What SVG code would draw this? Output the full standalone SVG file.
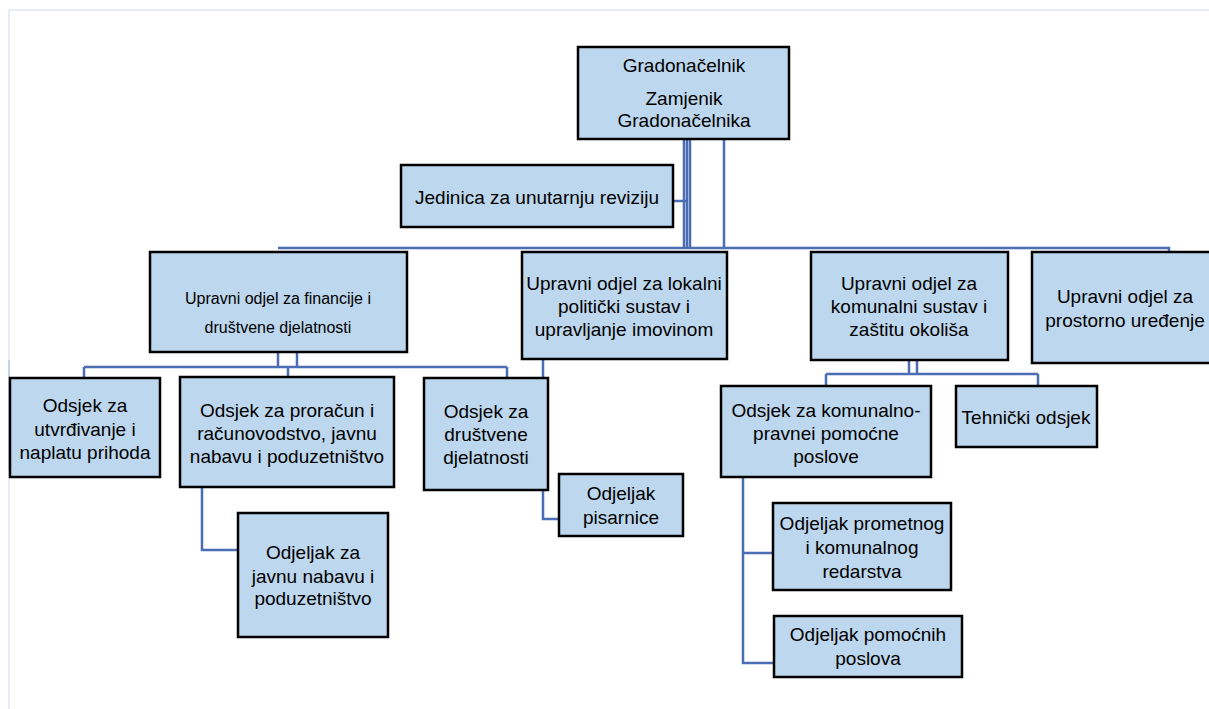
<svg xmlns="http://www.w3.org/2000/svg" width="1209" height="709" viewBox="0 0 1209 709">
<style>
.box{fill:#bdd7ee;stroke:#000;stroke-width:2.5}
.t{font-family:"Liberation Sans",Arial,sans-serif;font-size:19px;fill:#000;text-anchor:middle}
.s{font-size:16px}
.c{fill:none;stroke:#4a6db4;stroke-width:2.5}
</style>
<rect x="0" y="0" width="1209" height="709" fill="#fff"/>
<path d="M9 10 V709 M9 10 H1209" fill="none" stroke="#dfe5f2" stroke-width="1.5"/>
<path d="M9 360 V470" fill="none" stroke="#c9d3e8" stroke-width="2"/>
<g id="connectors">
<path class="c" d="M684 139 V248 M687 139 V248 M690 139 V248 M724 139 V248"/>
<path class="c" d="M673 201 H686"/>
<path class="c" d="M278 248 H1169 V251"/>
<path class="c" d="M278 352 V367 M297 352 V367 M84 367 H507 M84 367 V378 M288 367 V378 M507 367 V378"/>
<path class="c" d="M543 359 V378"/>
<path class="c" d="M543 490 V519 H559"/>
<path class="c" d="M202 487 V550 H238"/>
<path class="c" d="M909 360 V374 M917 360 V374 M826 374 H1038 M826 374 V386 M1038 374 V386"/>
<path class="c" d="M743 477 V663 H774 M743 553 H773"/>
</g>
<g id="n-gradonacelnik"><rect class="box" x="578" y="47" width="211" height="92"/>
<text class="t" x="684" y="72">Gradonačelnik</text>
<text class="t" x="684" y="105">Zamjenik</text>
<text class="t" x="684" y="127">Gradonačelnika</text></g>
<g id="n-revizija"><rect class="box" x="401" y="165" width="272" height="62"/>
<text class="t" x="537" y="204">Jedinica za unutarnju reviziju</text></g>
<g id="n-financije"><rect class="box" x="150" y="252" width="257" height="100"/>
<text class="t s" x="278" y="304">Upravni odjel za financije i</text>
<text class="t s" x="278" y="333">društvene djelatnosti</text></g>
<g id="n-lokalni"><rect class="box" x="522" y="252" width="205" height="107"/>
<text class="t" x="624" y="290">Upravni odjel za lokalni</text>
<text class="t" x="624" y="313">politički sustav i</text>
<text class="t" x="624" y="336">upravljanje imovinom</text></g>
<g id="n-komunalni"><rect class="box" x="811" y="252" width="197" height="108"/>
<text class="t" x="909" y="290">Upravni odjel za</text>
<text class="t" x="909" y="313">komunalni sustav i</text>
<text class="t" x="909" y="336">zaštitu okoliša</text></g>
<g id="n-prostorno"><rect class="box" x="1032" y="252" width="190" height="111"/>
<text class="t" x="1125" y="303">Upravni odjel za</text>
<text class="t" x="1125" y="327">prostorno uređenje</text></g>
<g id="n-utvrdivanje"><rect class="box" x="10" y="378" width="150" height="99"/>
<text class="t" x="85" y="412">Odsjek za</text>
<text class="t" x="85" y="436">utvrđivanje i</text>
<text class="t" x="85" y="459">naplatu prihoda</text></g>
<g id="n-proracun"><rect class="box" x="180" y="377" width="214" height="110"/>
<text class="t" x="287" y="417">Odsjek za proračun i</text>
<text class="t" x="287" y="440">računovodstvo, javnu</text>
<text class="t" x="287" y="463">nabavu i poduzetništvo</text></g>
<g id="n-drustvene"><rect class="box" x="424" y="378" width="124" height="112"/>
<text class="t" x="486" y="418">Odsjek za</text>
<text class="t" x="486" y="441">društvene</text>
<text class="t" x="486" y="464">djelatnosti</text></g>
<g id="n-pisarnice"><rect class="box" x="559" y="474" width="124" height="62"/>
<text class="t" x="621" y="500">Odjeljak</text>
<text class="t" x="621" y="524">pisarnice</text></g>
<g id="n-javna-nabava"><rect class="box" x="238" y="513" width="150" height="124"/>
<text class="t" x="313" y="559">Odjeljak za</text>
<text class="t" x="313" y="583">javnu nabavu i</text>
<text class="t" x="313" y="605">poduzetništvo</text></g>
<g id="n-komunalno-pravne"><rect class="box" x="721" y="386" width="210" height="91"/>
<text class="t" x="826" y="417">Odsjek za komunalno-</text>
<text class="t" x="826" y="440">pravnei pomoćne</text>
<text class="t" x="826" y="463">poslove</text></g>
<g id="n-tehnicki"><rect class="box" x="956" y="386" width="141" height="61"/>
<text class="t" x="1026" y="424">Tehnički odsjek</text></g>
<g id="n-prometnog"><rect class="box" x="773" y="503" width="178" height="87"/>
<text class="t" x="862" y="530">Odjeljak prometnog</text>
<text class="t" x="862" y="554">i komunalnog</text>
<text class="t" x="862" y="578">redarstva</text></g>
<g id="n-pomocnih"><rect class="box" x="774" y="616" width="188" height="61"/>
<text class="t" x="868" y="641">Odjeljak pomoćnih</text>
<text class="t" x="868" y="665">poslova</text></g>
</svg>
